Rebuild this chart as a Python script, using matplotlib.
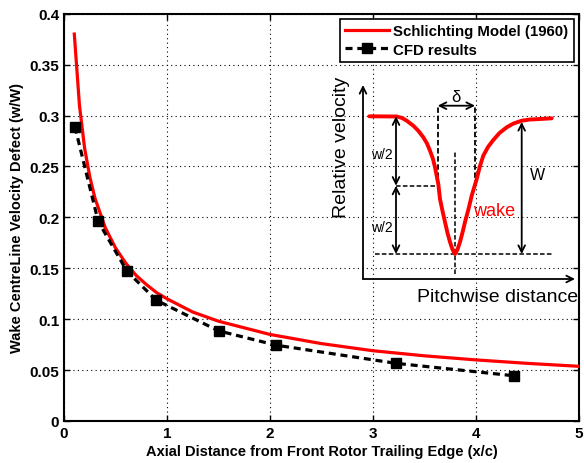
import matplotlib
matplotlib.use("Agg")
import matplotlib.pyplot as plt

plt.rcParams['font.family'] = ['Liberation Sans', 'DejaVu Sans']

# ---- main data ----
model_x = [0.1, 0.15, 0.2, 0.25, 0.3, 0.4, 0.5, 0.6, 0.7, 0.8, 0.9, 1.0, 1.25, 1.5,
           2.0, 2.5, 3.0, 3.5, 4.0, 4.5, 5.0]
model_y = [0.380, 0.310, 0.268, 0.240, 0.219, 0.190, 0.170, 0.155, 0.143, 0.134, 0.126,
           0.120, 0.107, 0.098, 0.085, 0.076, 0.069, 0.064, 0.060, 0.0566, 0.0537]
cfd_x = [0.106, 0.332, 0.612, 0.896, 1.502, 2.057, 3.227, 4.371]
cfd_y = [0.289, 0.196, 0.147, 0.1186, 0.0885, 0.0745, 0.0566, 0.0444]

xticks = [0, 1, 2, 3, 4, 5]
yticks = [0, 0.05, 0.1, 0.15, 0.2, 0.25, 0.3, 0.35, 0.4]
ytick_labels = ['0', '0.05', '0.1', '0.15', '0.2', '0.25', '0.3', '0.35', '0.4']

# ---- inset schematic data (schematic units) ----
wake_x = [6.3, 33.7, 39.0, 43.7, 50.3, 55.5, 60.3, 64.0, 67.0, 70.0, 72.0, 75.3, 77.0,
          79.5, 82.0, 84.5, 87.0, 89.5, 92.0, 94.5, 97.0, 99.5, 102.0, 105.5, 108.7,
          113.7, 117.0, 120.3, 125.0, 130.3, 136.5, 143.7, 150.5, 158.7, 167.0, 177.0, 188.7]
wake_y = [162.7, 162.5, 161.0, 158.3, 153.3, 148.0, 141.7, 135.5, 128.3, 120.0, 111.7,
          95.0, 80.0, 68.0, 57.0, 46.0, 37.0, 29.5, 25.0, 29.5, 37.0, 46.5, 57.0, 70.0,
          83.3, 100.0, 113.0, 123.3, 132.0, 139.0, 146.0, 151.7, 155.5, 158.3, 159.5,
          160.0, 160.7]

fig = plt.figure(figsize=(5.84, 4.64), dpi=100)
ax = fig.add_axes([64/584, 42/464, 515/584, 407.3/464])

ax.plot(model_x, model_y, color='red', lw=2.3, label='Schlichting Model (1960)', zorder=3)
ax.plot(cfd_x, cfd_y, color='black', lw=2.3, ls=(0, (2.2, 1.5)), marker='s', ms=6.5,
        label='CFD results', zorder=4)

ax.set_xlim(0, 5)
ax.set_ylim(0, 0.4)
ax.set_xticks(xticks)
ax.set_xticklabels([str(t) for t in xticks])
ax.set_yticks(yticks)
ax.set_yticklabels(ytick_labels)
ax.grid(True, color='black', ls=(0, (1, 3)), lw=0.8)
ax.tick_params(direction='in', top=True, right=True, length=4, width=1, labelsize=11)
for lab in ax.get_xticklabels() + ax.get_yticklabels():
    lab.set_fontweight('bold')
for sp in ax.spines.values():
    sp.set_linewidth(1.5)
ax.set_xlabel('Axial Distance from Front Rotor Trailing Edge (x/c)', fontsize=10.5,
              fontweight='bold', labelpad=3)
ax.set_ylabel('Wake CentreLine Velocity Defect (w/W)', fontsize=10.5,
              fontweight='bold', labelpad=4)

leg = ax.legend(loc='upper right', frameon=True, fancybox=False,
                borderpad=0.35, handlelength=2.9, handletextpad=0.3, labelspacing=0.3,
                borderaxespad=0.35, prop={'weight': 'bold', 'size': 10.8})
leg.get_frame().set_edgecolor('black')
leg.get_frame().set_linewidth(1.2)
leg.get_frame().set_alpha(1)

# ---- inset schematic ----
ins = fig.add_axes([363/584, 184/464, 215/584, 193/464])
ins.set_xlim(0, 215)
ins.set_ylim(0, 193)
ins.axis('off')
ins.patch.set_alpha(0)

arr = dict(arrowstyle='->', lw=1.3, color='black', mutation_scale=12, shrinkA=0, shrinkB=0)
darr = dict(arrowstyle='<->', lw=1.3, color='black', mutation_scale=12, shrinkA=0, shrinkB=0)
ins.annotate('', xy=(0, 194), xytext=(0, 0), arrowprops=arr, annotation_clip=False)
ins.annotate('', xy=(212, 0), xytext=(0, 0), arrowprops=arr, annotation_clip=False)

ins.plot(wake_x, wake_y, color='red', lw=2.8, solid_capstyle='round',
         solid_joinstyle='round', zorder=3)

dash = (0, (3, 1.5))
ins.plot([12, 190], [25, 25], color='black', lw=1.1, ls=dash)
ins.plot([92, 92], [5, 127], color='black', lw=1.1, ls=dash)
ins.plot([74.7, 74.7], [93.3, 173.3], color='black', lw=1.3, ls=dash)
ins.plot([112, 112], [93.3, 173.3], color='black', lw=1.3, ls=dash)
ins.plot([33, 74.7], [93.3, 93.3], color='black', lw=1.1, ls=dash)

ins.annotate('', xy=(74.7, 173.3), xytext=(112, 173.3), arrowprops=darr)
ins.annotate('', xy=(33, 162.7), xytext=(33, 93.3), arrowprops=darr)
ins.annotate('', xy=(33, 93.3), xytext=(33, 25), arrowprops=darr)
ins.annotate('', xy=(158.7, 157), xytext=(158.7, 25), arrowprops=darr)

ins.text(93, 183, 'δ', fontsize=12, ha='center', va='center')
ins.text(19, 125, 'w/2', fontsize=10, ha='center', va='center')
ins.text(19, 52, 'w/2', fontsize=10, ha='center', va='center')
ins.text(174, 104, 'W', fontsize=11.5, ha='center', va='center')
ins.text(110, 68, 'wake', fontsize=13, color='red', ha='left', va='center')
ins.text(215, -18, 'Pitchwise distance', fontsize=14, ha='right', va='center',
         clip_on=False)
ins.text(-22, 133, 'Relative velocity', fontsize=14, ha='center', va='center',
         rotation=90, clip_on=False)

fig.savefig('out.png', dpi=100)
